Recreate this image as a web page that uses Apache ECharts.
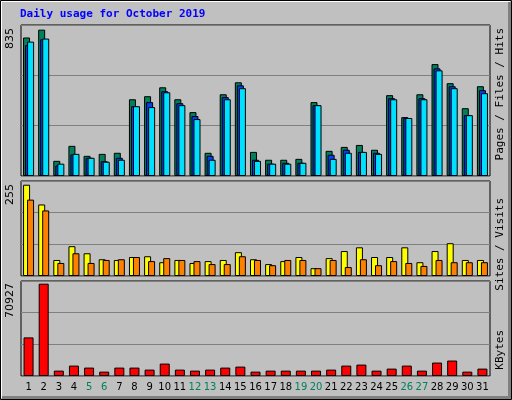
<!DOCTYPE html>
<html><head><meta charset="utf-8">
<script src="https://cdn.jsdelivr.net/npm/echarts@6/dist/echarts.min.js"></script>
<style>html,body{margin:0;padding:0;background:#c0c0c0}#c{width:512px;height:400px}</style>
</head><body><div id="c"></div>
<script>
// daily values
const days = ['1','2','3','4','5','6','7','8','9','10','11','12','13','14','15','16','17','18','19','20','21','22','23','24','25','26','27','28','29','30','31']
const weekend = ['5','6','12','13','19','20','26','27']
const hits = [776,820,85,169,113,124,130,430,447,497,430,358,130,458,525,135,91,91,96,414,141,163,174,147,453,330,458,627,520,380,503]
const files = [733,766,59,121,102,83,102,391,414,475,408,336,113,442,508,91,69,74,74,397,119,147,135,130,436,325,436,603,503,341,481]
const pages = [753,770,69,124,102,80,91,391,386,469,397,319,91,430,492,85,69,69,74,397,96,130,135,124,430,325,430,592,492,341,464]
const sites = [245,192,43,80,61,45,43,51,53,37,43,35,40,43,64,45,32,40,51,21,48,67,77,51,51,77,37,67,88,43,43]
const visits = [205,176,35,61,35,43,45,51,40,48,43,40,32,32,53,43,29,43,43,21,43,24,45,29,40,35,27,43,37,37,37]
const kbytes = [29660,70927,4127,7995,6448,3353,6448,6448,4900,9543,4900,4127,4900,6448,7222,3353,4127,4127,4127,4127,4900,7995,8769,4127,5674,7995,4127,10317,11864,3353,5674]

const chart = echarts.init(document.getElementById('c'))
const grids = [
  { left: 21, right: 22, top: 25, height: 151 },
  { left: 21, right: 22, top: 181, height: 95 },
  { left: 21, right: 22, top: 281, height: 95 }
].map(g => Object.assign(g, { show: true, backgroundColor: '#c0c0c0', borderColor: '#000', borderWidth: 1 }))

const maxes = [846, 255, 73000]
const xAxes = grids.map((g, i) => ({
  type: 'category', gridIndex: i, data: days,
  axisLine: { show: false }, axisTick: { show: false },
  axisLabel: i === 2 ? {
    interval: 0, margin: 6, fontFamily: 'DejaVu Sans', fontSize: 10, color: '#000',
    formatter: d => weekend.includes(d) ? '{w|' + d + '}' : d,
    rich: { w: { color: '#00805c', fontFamily: 'DejaVu Sans', fontSize: 10 } }
  } : { show: false }
}))
const yAxes = maxes.map((m, i) => ({
  type: 'value', gridIndex: i, min: 0, max: m, interval: m / 3,
  axisLabel: { show: false }, axisLine: { show: false }, axisTick: { show: false },
  splitLine: { lineStyle: { color: '#808080', width: 1 } }
}))

const bar = (name, data, xi, color, w, gap) => ({
  name, type: 'bar', data, xAxisIndex: xi, yAxisIndex: xi, barWidth: w, barGap: gap,
  itemStyle: { color, borderColor: '#000', borderWidth: 1 }, silent: true, animation: false
})

const vlabel = (x, y, rich, parts) => ({
  type: 'text', x, y, rotation: Math.PI / 2,
  style: { text: parts, rich, font: '11px "DejaVu Sans Mono"', align: 'right', verticalAlign: 'middle' }
})
const sep = { color: '#404040', fontFamily: 'DejaVu Sans Mono', fontSize: 11 }

chart.setOption({
  animation: false,
  grid: grids, xAxis: xAxes, yAxis: yAxes,
  series: [
    bar('Hits', hits, 0, '#00805c', 7, '-71%'),
    bar('Files', files, 0, '#0040ff', 7, '-71%'),
    bar('Pages', pages, 0, '#00e0ff', 7, '-71%'),
    bar('Sites', sites, 1, '#ffff00', 7, '-43%'),
    bar('Visits', visits, 1, '#ff8000', 7, '-43%'),
    bar('KBytes', kbytes, 2, '#ff0000', 10, '0%')
  ],
  graphic: [
    { type: 'rect', shape: { x: 0.5, y: 0.5, width: 511, height: 399 }, style: { fill: null, stroke: '#000' }, z: -1 },
    { type: 'polyline', shape: { points: [[1.5, 398], [1.5, 1.5], [510, 1.5]] }, style: { stroke: '#fff', fill: null } },
    { type: 'polyline', shape: { points: [[2, 397.5], [509.5, 397.5], [509.5, 2]] }, style: { stroke: '#808080', lineWidth: 3, fill: null } },
    { type: 'text', x: 20, y: 9, style: { text: 'Daily usage for October 2019', font: 'bold 11px "DejaVu Sans Mono"', fill: '#0000ff' } },
    { type: 'text', x: 10, y: 28, rotation: Math.PI / 2, style: { text: '835', font: '11px "DejaVu Sans"', fill: '#000', align: 'right', verticalAlign: 'middle' } },
    { type: 'text', x: 10, y: 184, rotation: Math.PI / 2, style: { text: '255', font: '11px "DejaVu Sans"', fill: '#000', align: 'right', verticalAlign: 'middle' } },
    { type: 'text', x: 10, y: 283, rotation: Math.PI / 2, style: { text: '70927', font: '11px "DejaVu Sans"', fill: '#000', align: 'right', verticalAlign: 'middle' } },
    vlabel(500, 28, { p: { color: '#00e0ff' }, f: { color: '#0040ff' }, h: { color: '#00805c' }, s: sep },
      '{p|Pages}{s| / }{f|Files}{s| / }{h|Hits}'),
    vlabel(500, 198, { a: { color: '#ff8000' }, b: { color: '#ffff00' }, s: sep },
      '{a|Sites}{s| / }{b|Visits}'),
    vlabel(500, 330, { k: { color: '#ff0000' } }, '{k|KBytes}')
  ]
})
</script></body></html>
